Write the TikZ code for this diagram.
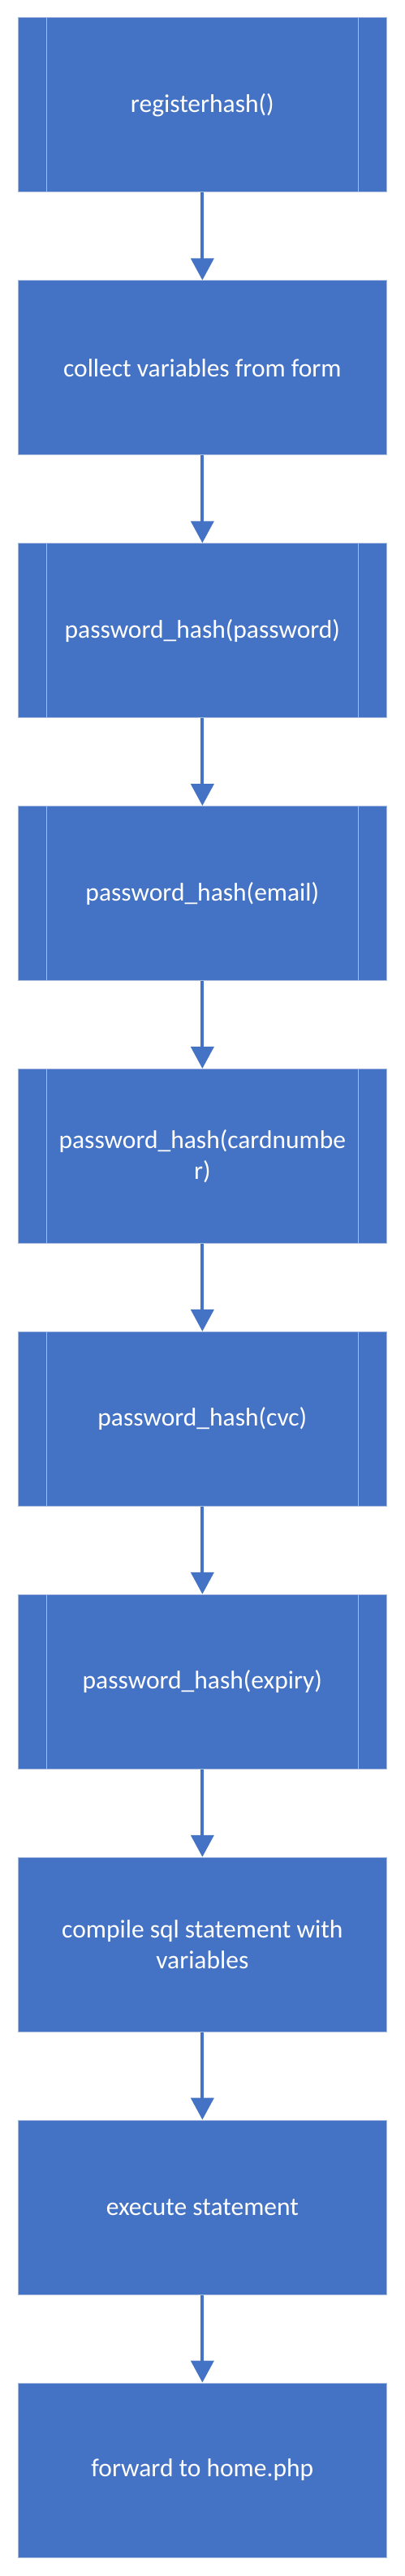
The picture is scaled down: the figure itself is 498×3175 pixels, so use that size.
\documentclass[tikz,border=0pt]{standalone}
\usepackage{fontspec}
\setmainfont{Carlito}
\usetikzlibrary{arrows.meta}
\definecolor{boxblue}{HTML}{4472C4}
\definecolor{boxline}{HTML}{A9BCE0}
\tikzset{
  procbox/.style={draw=boxline, line width=1pt, fill=boxblue, text=white,
    minimum width=454.5pt, minimum height=215pt, inner sep=0pt, align=center,
    font=\fontsize{31.5}{37.5}\selectfont},
  sideline/.style={draw=boxline, line width=1pt},
  flowarrow/.style={draw=boxblue, line width=4pt,
    -{Triangle[width=28pt,length=27pt]}}
}
\begin{document}
\begin{tikzpicture}[x=1pt,y=-1pt]
\useasboundingbox (0,0) rectangle (498,3175);
\node[procbox] (n1) at (249.35,129.45) {registerhash()};
\node[procbox] (n2) at (249.35,453.35) {collect variables from form};
\node[procbox] (n3) at (249.35,777.25) {password\_hash(password)};
\node[procbox] (n4) at (249.35,1101.15) {password\_hash(email)};
\node[procbox] (n5) at (249.35,1425.05) {password\_hash(cardnumbe\\r)};
\node[procbox] (n6) at (249.35,1748.95) {password\_hash(cvc)};
\node[procbox] (n7) at (249.35,2072.85) {password\_hash(expiry)};
\node[procbox] (n8) at (249.35,2396.75) {compile sql statement with\\variables};
\node[procbox] (n9) at (249.35,2720.65) {execute statement};
\node[procbox] (n10) at (249.35,3044.55) {forward to home.php};
\foreach \n in {n1,n3,n4,n5,n6,n7}{
  \draw[sideline] ([xshift=35.7pt]\n.north west) -- ([xshift=35.7pt]\n.south west);
  \draw[sideline] ([xshift=-35.7pt]\n.north east) -- ([xshift=-35.7pt]\n.south east);
}
\foreach \a/\b in {n1/n2,n2/n3,n3/n4,n4/n5,n5/n6,n6/n7,n7/n8,n8/n9,n9/n10}{
  \draw[flowarrow] (\a.south) -- (\b.north);
}
\end{tikzpicture}
\end{document}
